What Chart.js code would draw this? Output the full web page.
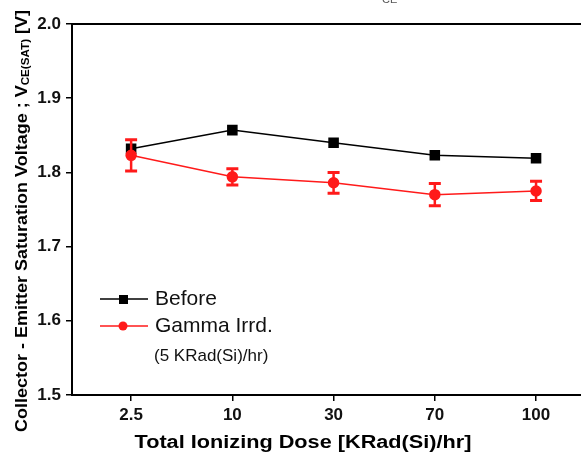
<!DOCTYPE html>
<html>
<head>
<meta charset="utf-8">
<script src="https://cdn.jsdelivr.net/npm/chart.js@4"></script>
<style>
  html, body { margin: 0; padding: 0; background: #fff; }
  #wrap { width: 581px; height: 455px; }
</style>
</head>
<body>
<div id="wrap"><canvas id="vceChart" width="581" height="455"></canvas></div>
<script>
// Data
const doseLabels = ['2.5', '10', '30', '70', '100'];
const beforeValues = [1.832, 1.857, 1.840, 1.823, 1.819];
const gammaValues = [1.823, 1.794, 1.786, 1.770, 1.775];
const gammaErr = [0.021, 0.011, 0.014, 0.015, 0.013];
const yTicks = [1.5, 1.6, 1.7, 1.8, 1.9, 2.0];

const RED = '#ff1a1a';
const FONT = "'Liberation Sans', Arial, sans-serif";

// Draw text stretched horizontally to a given width
function stretchedText(ctx, parts, targetWidth) {
    let total = 0;
    parts.forEach(p => { ctx.font = p.font; total += ctx.measureText(p.text).width; });
    const sx = targetWidth / total;
    ctx.scale(sx, 1);
    let x = -total / 2;
    parts.forEach(p => {
        ctx.font = p.font;
        ctx.fillText(p.text, x, p.dy || 0);
        x += ctx.measureText(p.text).width;
    });
}

// Error bars of the irradiated series
const errorBars = {
    id: 'errorBars',
    afterDatasetsDraw(chart) {
        const ctx = chart.ctx, xs = chart.scales.x, ys = chart.scales.y;
        ctx.save();
        ctx.strokeStyle = RED;
        gammaValues.forEach((v, i) => {
            const x = xs.getPixelForValue(i);
            const yTop = ys.getPixelForValue(v + gammaErr[i]);
            const yBot = ys.getPixelForValue(v - gammaErr[i]);
            ctx.lineWidth = 2.5;
            ctx.beginPath();
            ctx.moveTo(x, yTop); ctx.lineTo(x, yBot);
            ctx.stroke();
            ctx.lineWidth = 3;
            ctx.beginPath();
            ctx.moveTo(x - 6, yTop); ctx.lineTo(x + 6, yTop);
            ctx.moveTo(x - 6, yBot); ctx.lineTo(x + 6, yBot);
            ctx.stroke();
        });
        ctx.restore();
    }
};

// Frame lines running off the right edge, titles and the in-plot legend
const decorations = {
    id: 'decorations',
    afterDraw(chart) {
        const ctx = chart.ctx, area = chart.chartArea;
        ctx.save();
        ctx.strokeStyle = '#000';
        ctx.lineWidth = 2;
        ctx.beginPath();
        ctx.moveTo(area.left - 1, area.top);
        ctx.lineTo(chart.width, area.top);
        ctx.moveTo(area.right - 1, area.bottom);
        ctx.lineTo(chart.width, area.bottom);
        ctx.stroke();

        ctx.fillStyle = '#000';
        ctx.textBaseline = 'middle';
        ctx.textAlign = 'left';

        // y axis title
        ctx.save();
        ctx.translate(22, 221);
        ctx.rotate(-Math.PI / 2);
        stretchedText(ctx, [
            { text: 'Collector - Emitter Saturation Voltage ; V', font: 'bold 17px ' + FONT },
            { text: 'CE(SAT)', font: 'bold 11px ' + FONT, dy: 4 },
            { text: ' [V]', font: 'bold 17px ' + FONT }
        ], 422);
        ctx.restore();

        // x axis title
        ctx.save();
        ctx.translate(303, 443);
        stretchedText(ctx, [
            { text: 'Total Ionizing Dose [KRad(Si)/hr]', font: 'bold 18px ' + FONT }
        ], 337);
        ctx.restore();

        // cut-off fragment of the title above the chart
        ctx.fillStyle = '#555';
        ctx.font = '11px ' + FONT;
        ctx.textBaseline = 'alphabetic';
        ctx.fillText('CE', 382, 3);

        // legend
        ctx.textBaseline = 'middle';
        ctx.lineWidth = 1.5;
        ctx.strokeStyle = '#000';
        ctx.beginPath(); ctx.moveTo(100, 299); ctx.lineTo(148, 299); ctx.stroke();
        ctx.fillStyle = '#000';
        ctx.fillRect(119, 295, 9, 9);
        ctx.strokeStyle = RED;
        ctx.beginPath(); ctx.moveTo(100, 326); ctx.lineTo(148, 326); ctx.stroke();
        ctx.fillStyle = RED;
        ctx.beginPath(); ctx.arc(123, 326, 4.5, 0, Math.PI * 2); ctx.fill();

        ctx.fillStyle = '#111';
        ctx.font = '21px ' + FONT;
        ctx.fillText('Before', 155, 299);
        ctx.fillText('Gamma Irrd.', 155, 326);
        ctx.font = '17px ' + FONT;
        ctx.fillText('(5 KRad(Si)/hr)', 154, 356);
        ctx.restore();
    }
};

const config = {
    type: 'line',
    data: {
        datasets: [
            {
                label: 'Gamma Irrd.',
                data: gammaValues.map((v, i) => ({ x: i, y: v })),
                borderColor: RED,
                backgroundColor: RED,
                borderWidth: 1.5,
                pointStyle: 'circle',
                pointRadius: 5,
                pointHoverRadius: 5,
                tension: 0
            },
            {
                label: 'Before',
                data: beforeValues.map((v, i) => ({ x: i, y: v })),
                borderColor: '#000',
                backgroundColor: '#000',
                borderWidth: 1.5,
                pointStyle: 'rect',
                pointRadius: 6.4,
                pointHoverRadius: 6.4,
                tension: 0
            }
        ]
    },
    options: {
        responsive: false,
        animation: false,
        layout: { padding: { top: 24, left: 0, right: 0, bottom: 0 } },
        plugins: {
            legend: { display: false },
            tooltip: { enabled: false }
        },
        scales: {
            x: {
                type: 'linear',
                min: -0.584,
                max: 4.366,
                afterFit: scale => { scale.height = 60; },
                afterBuildTicks: scale => { scale.ticks = doseLabels.map((_, i) => ({ value: i })); },
                border: { display: true, color: '#000', width: 2 },
                grid: { drawOnChartArea: false, drawTicks: true, tickLength: 6, tickColor: '#000', lineWidth: 1.5 },
                ticks: {
                    color: '#111',
                    padding: 4,
                    maxRotation: 0,
                    font: { family: FONT, size: 17, weight: 'bold' },
                    callback: value => doseLabels[value]
                }
            },
            y: {
                min: 1.5,
                max: 2.0,
                afterFit: scale => { scale.width = 72; },
                afterBuildTicks: scale => { scale.ticks = yTicks.map(v => ({ value: v })); },
                border: { display: true, color: '#000', width: 2 },
                grid: { drawOnChartArea: false, drawTicks: true, tickLength: 6, tickColor: '#000', lineWidth: 1.5 },
                ticks: {
                    color: '#111',
                    padding: 5,
                    font: { family: FONT, size: 17, weight: 'bold' },
                    callback: value => value.toFixed(1)
                }
            }
        }
    },
    plugins: [errorBars, decorations]
};

new Chart(document.getElementById('vceChart'), config);
</script>
</body>
</html>
